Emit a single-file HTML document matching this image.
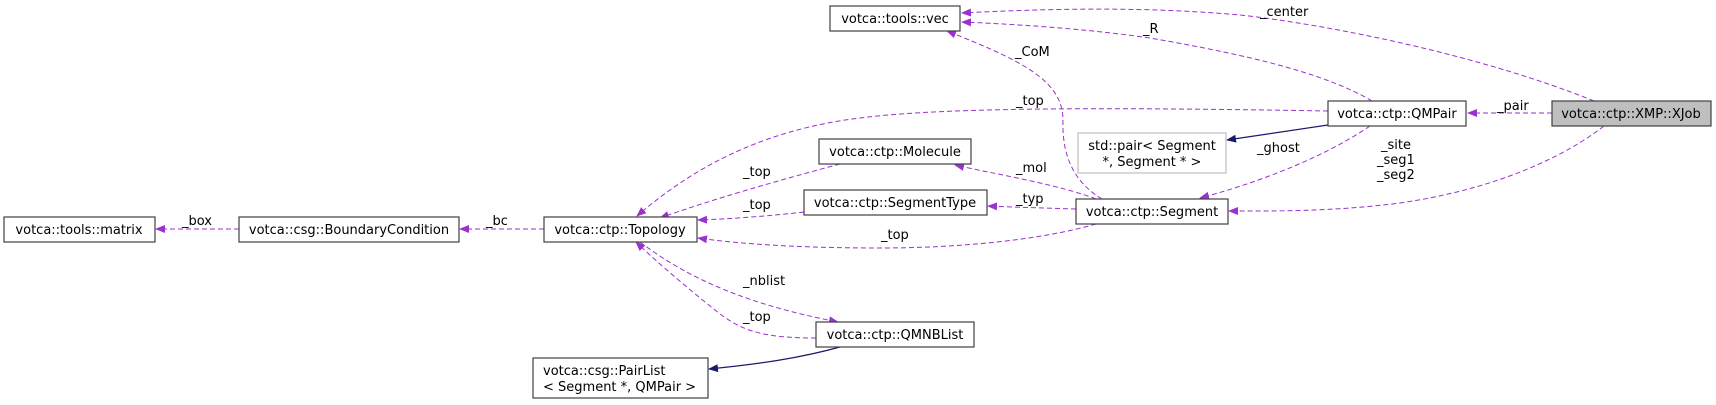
<!DOCTYPE html>
<html><head><meta charset="utf-8"><style>
html,body{margin:0;padding:0;background:#fff;}
svg{display:block;}
text{font-family:"DejaVu Sans","Liberation Sans",sans-serif;font-size:13px;fill:#000;}
.b{fill:#fff;stroke:#404040;stroke-width:1.2;}
.d{fill:none;stroke:#9a32cd;stroke-width:1;stroke-dasharray:5,3;}
.s{fill:none;stroke:#191970;stroke-width:1.2;}
</style></head><body>
<svg width="1716" height="405" viewBox="0 0 1716 405" xmlns="http://www.w3.org/2000/svg">
<defs>
<marker id="p" markerWidth="10" markerHeight="8" refX="9" refY="4" orient="auto" markerUnits="userSpaceOnUse"><path d="M0,0 L10,4 L0,8 z" fill="#9a32cd"/></marker>
<marker id="n" markerWidth="10" markerHeight="8" refX="9" refY="4" orient="auto" markerUnits="userSpaceOnUse"><path d="M0,0 L10,4 L0,8 z" fill="#191970"/></marker>
</defs>

<path class="d" marker-end="url(#p)" d="M1594,101 C1480,55 1330,25 1240,15 C1140,6 1040,9 962,13"/>
<text x="1260" y="16">_center</text>
<path class="d" marker-end="url(#p)" d="M1372,101 C1320,70 1230,52 1150,38 C1080,28 1010,24 962,22"/>
<text x="1143" y="33">_R</text>
<path class="d" marker-end="url(#p)" d="M1328,111 C1150,108 950,106 860,118 C760,130 690,170 637,216"/>
<text x="1016" y="105">_top</text>
<path class="d" marker-end="url(#p)" d="M1552,113 L1468,113"/>
<text x="1497" y="110">_pair</text>
<path class="s" marker-end="url(#n)" d="M1328,125 L1227,140"/>
<path class="d" marker-end="url(#p)" d="M1370,126 C1320,160 1250,185 1200,198"/>
<text x="1257" y="152">_ghost</text>
<path class="d" marker-end="url(#p)" d="M1604,126 C1560,160 1490,190 1400,203 C1330,212 1270,211 1229,211"/>
<text x="1381" y="149">_site</text>
<text x="1377" y="164">_seg1</text>
<text x="1377" y="179">_seg2</text>
<path class="d" marker-end="url(#p)" d="M1102,199 C1070,180 1062,150 1063,120 C1063,80 1020,60 947,31"/>
<text x="1015" y="56">_CoM</text>
<path class="d" marker-end="url(#p)" d="M1096,199 C1060,185 1000,175 955,165"/>
<text x="1016" y="172">_mol</text>
<path class="d" marker-end="url(#p)" d="M1076,209 C1040,208 1010,207 988,206"/>
<text x="1016" y="203">_typ</text>
<path class="d" marker-end="url(#p)" d="M1096,224 C1040,240 960,248 880,248 C800,248 740,244 698,238"/>
<text x="881" y="239">_top</text>
<path class="d" marker-end="url(#p)" d="M840,164 C780,180 710,200 660,218"/>
<text x="743" y="176">_top</text>
<path class="d" marker-end="url(#p)" d="M804,212 C770,216 730,219 698,220"/>
<text x="743" y="209">_top</text>
<path class="d" marker-end="url(#p)" d="M640,242 C690,280 750,305 838,322"/>
<text x="743" y="285">_nblist</text>
<path class="d" marker-end="url(#p)" d="M816,338 C760,338 740,330 715,310 C690,290 660,265 636,242"/>
<text x="743" y="321">_top</text>
<path class="s" marker-end="url(#n)" d="M840,347 C800,358 760,364 709,369"/>
<path class="d" marker-end="url(#p)" d="M544,229 L460,229"/>
<text x="486" y="225">_bc</text>
<path class="d" marker-end="url(#p)" d="M239,229 L156,229"/>
<text x="182" y="225">_box</text>

<rect class="b" x="830" y="6" width="130" height="25"/><text x="895" y="23" text-anchor="middle">votca::tools::vec</text>
<rect class="b" x="1328" y="101" width="138" height="25"/><text x="1397" y="118" text-anchor="middle">votca::ctp::QMPair</text>
<rect x="1552" y="101" width="159" height="25" fill="#bfbfbf" stroke="#404040" stroke-width="1.2"/><text x="1631" y="118" text-anchor="middle">votca::ctp::XMP::XJob</text>
<rect x="1078" y="133" width="148" height="40" fill="#fff" stroke="#bfbfbf" stroke-width="1.2"/><text x="1152" y="150" text-anchor="middle">std::pair&lt; Segment</text><text x="1152" y="166" text-anchor="middle">*, Segment * &gt;</text>
<rect class="b" x="1076" y="199" width="152" height="25"/><text x="1152" y="216" text-anchor="middle">votca::ctp::Segment</text>
<rect class="b" x="819" y="139" width="152" height="25"/><text x="895" y="156" text-anchor="middle">votca::ctp::Molecule</text>
<rect class="b" x="804" y="190" width="183" height="25"/><text x="895" y="207" text-anchor="middle">votca::ctp::SegmentType</text>
<rect class="b" x="544" y="217" width="153" height="25"/><text x="620" y="234" text-anchor="middle">votca::ctp::Topology</text>
<rect class="b" x="239" y="217" width="220" height="25"/><text x="349" y="234" text-anchor="middle">votca::csg::BoundaryCondition</text>
<rect class="b" x="4" y="217" width="151" height="25"/><text x="79" y="234" text-anchor="middle">votca::tools::matrix</text>
<rect class="b" x="816" y="322" width="158" height="25"/><text x="895" y="339" text-anchor="middle">votca::ctp::QMNBList</text>
<rect class="b" x="533" y="358" width="175" height="40"/><text x="543" y="375">votca::csg::PairList</text><text x="543" y="391">&lt; Segment *, QMPair &gt;</text>
</svg>
</body></html>
